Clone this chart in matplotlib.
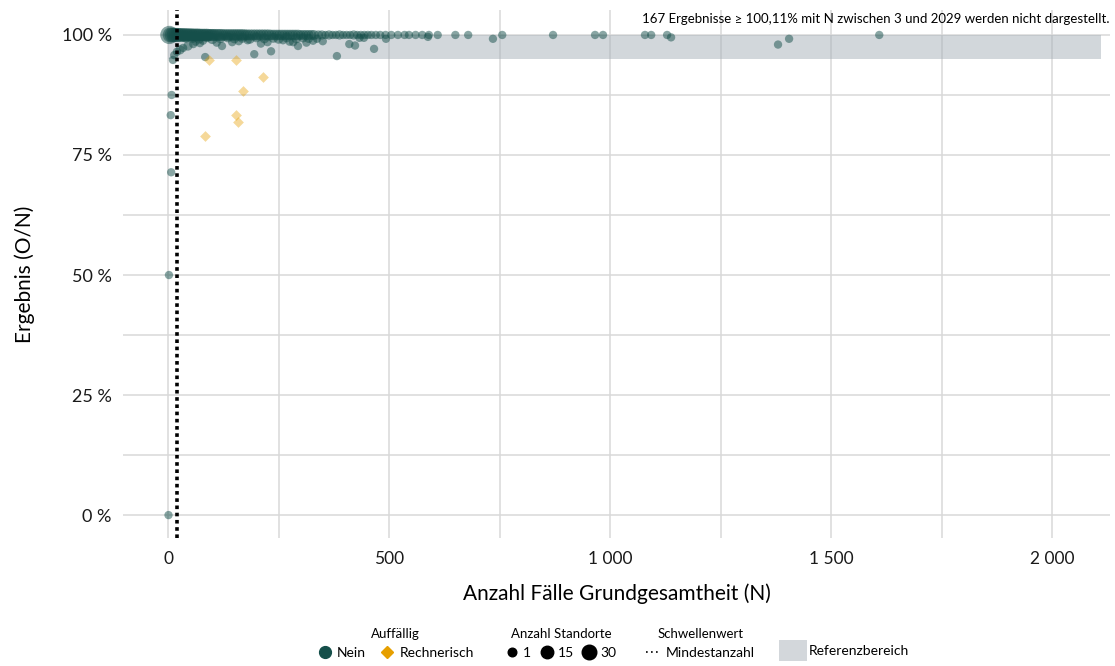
import matplotlib.pyplot as plt
import numpy as np
from matplotlib.lines import Line2D
from matplotlib.patches import Patch

plt.rcParams['font.family'] = ['Lato', 'DejaVu Sans']

#---------------------------------------------------------------------------#
# data
#---------------------------------------------------------------------------#

# Auffaellig: Nein -- results at 100 %
n_voll = [3, 5, 9, 13, 17, 21, 25, 29, 33, 37, 41, 45, 49, 53, 57, 61, 65,
          69, 73, 77, 81, 85, 89, 93, 97, 101, 105, 110, 115, 120, 125, 130,
          135, 140, 145, 150, 155, 160, 165, 170, 175, 180, 186, 192, 198,
          204, 210, 216, 222, 228, 234, 240, 246, 252, 258, 264, 270, 276,
          282, 288, 294, 300, 306, 312, 318, 324, 330,
          340, 348, 356, 364, 372, 380, 388, 396, 404, 412, 420, 428, 436,
          444, 452, 460, 470, 480, 492, 505, 520, 535, 545, 560, 575, 590,
          610, 650, 679, 756, 871, 966, 984, 1079, 1093, 1129, 1609]
anzahl_voll = [30, 16, 15, 14, 13, 13, 12, 12, 11, 11, 11, 10, 10, 10, 9, 9,
               9, 9, 8, 8, 8, 8, 8, 7, 7, 7, 7, 7, 7, 7, 6, 6, 6, 6, 6, 6, 6,
               6, 6, 6, 5, 5, 5, 5, 5, 5, 5, 5, 5, 5, 4, 4, 4, 4, 4, 4, 4, 4,
               4, 4, 4, 3, 3, 3, 3, 3, 3,
               2, 2, 1, 2, 1, 1, 2, 1, 1, 1, 2, 1, 1, 1, 1, 1, 1, 1, 1, 1, 1,
               1, 1, 1, 1, 1, 1, 1, 1, 1, 1, 1, 1, 1, 1, 1, 1]

# Auffaellig: Nein -- results below 100 %
n_unter = [1, 2, 7, 6, 8,
           11, 14, 20, 27, 34, 45, 57, 72,
           84, 122, 195, 233, 294, 382, 466, 79, 145, 180, 210, 260, 283, 328,
           337, 350, 410, 423, 433, 443, 493, 588, 735, 1138, 1380, 1405,
           40, 55, 70, 88, 100, 118, 135, 150, 168, 185, 200, 218, 238, 250,
           268, 290, 305, 318,
           62, 110, 160, 225, 275, 313]
ergebnis_unter = [0.0, 50.0, 71.4, 83.3, 87.5,
                  94.8, 95.8, 96.5, 96.9, 97.3, 97.7, 98.1, 98.3,
                  95.4, 97.7, 96.0, 96.6, 97.7, 95.6, 97.1, 98.8, 98.5, 98.9,
                  98.2, 98.9, 98.5, 98.8, 99.2, 98.7, 98.1, 97.8, 99.4, 99.4,
                  99.2, 99.6, 99.2, 99.5, 98.0, 99.2,
                  99.5, 99.4, 99.3, 99.6, 99.2, 99.4, 99.5, 99.3, 99.4, 99.2,
                  99.5, 99.3, 99.4, 99.2, 99.5, 99.3, 99.4, 99.3,
                  98.6, 98.4, 98.7, 98.5, 98.6, 98.4]
anzahl_unter = [1, 1, 1, 1, 1,
                1, 1, 1, 2, 1, 2, 1, 1,
                1, 1, 1, 1, 1, 1, 1, 1, 1, 1, 1, 1, 1, 1,
                1, 1, 1, 1, 1, 1, 1, 1, 1, 1, 1, 1,
                4, 4, 4, 4, 4, 4, 3, 3, 3, 3, 3, 3, 3, 3, 3, 3, 2, 2,
                1, 1, 1, 1, 1, 1]

# Auffaellig: Rechnerisch
n_rech = [93, 154, 215, 170, 154, 158, 84]
ergebnis_rech = [94.8, 94.8, 91.2, 88.3, 83.3, 81.9, 79.0]

mindestanzahl = 20
ref_unten, ref_oben = 95, 100
ref_n_max = 2110

x_ticks = [0, 500, 1000, 1500, 2000]
x_ticklabels = ["0", "500", "1 000", "1 500", "2 000"]
y_ticks = [0, 25, 50, 75, 100]
y_ticklabels = ["0 %", "25 %", "50 %", "75 %", "100 %"]

legend_sizes = [1, 15, 30]

TEAL = "#154f4a"
ORANGE = "#e69f00"


def size_of(n):
    # marker area in pt^2, diameter grows with sqrt of the count
    d = 6.0 + 1.6 * (np.sqrt(np.asarray(n, dtype=float)) - 1)
    return d ** 2


#---------------------------------------------------------------------------#
# plot
#---------------------------------------------------------------------------#

fig = plt.figure(figsize=(11.15, 6.66), dpi=100)
ax = fig.add_axes([0.1103, 0.192, 0.8852, 0.793])

ax.set_xlim(-102, 2131)
ax.set_ylim(-4.8, 105.2)

ax.set_xticks(x_ticks)
ax.set_xticklabels(x_ticklabels)
ax.set_xticks([250, 750, 1250, 1750], minor=True)
ax.set_yticks(y_ticks)
ax.set_yticklabels(y_ticklabels)
ax.set_yticks([12.5, 37.5, 62.5, 87.5], minor=True)
ax.grid(which="both", color="#d9d9d9", linewidth=1.1, zorder=0)
ax.set_axisbelow(True)
ax.tick_params(which="both", length=0, colors="#1a1a1a")
ax.tick_params(axis="x", labelsize=12.5, pad=9)
ax.tick_params(axis="y", labelsize=13, pad=8)
for s in ax.spines.values():
    s.set_visible(False)

# reference range
ax.fill_between([0, ref_n_max], ref_unten, ref_oben, facecolor="#a7b0b8",
                alpha=0.5, linewidth=0, zorder=1)

ax.scatter(n_voll, [100] * len(n_voll), s=size_of(anzahl_voll), c=TEAL,
           alpha=0.5, linewidths=0, zorder=3)
ax.scatter(n_unter, ergebnis_unter, s=size_of(anzahl_unter), c=TEAL,
           alpha=0.5, linewidths=0, zorder=3)
ax.scatter(n_rech, ergebnis_rech, s=30, c=ORANGE, marker="D",
           alpha=0.4, linewidths=0, zorder=3)

ax.axvline(mindestanzahl, color="black", linestyle=(0, (1, 1)),
           linewidth=2.6, zorder=4)

ax.set_xlabel("Anzahl Fälle Grundgesamtheit (N)", fontsize=15, labelpad=12)
ax.set_ylabel("Ergebnis (O/N)", fontsize=15, labelpad=19)

fig.text(0.9955, 0.972,
         "167 Ergebnisse ≥ 100,11% mit N zwischen 3 und 2029 werden nicht dargestellt.",
         ha="right", va="center", fontsize=9.5)

#---------------------------------------------------------------------------#
# legends
#---------------------------------------------------------------------------#

leg_kw = dict(frameon=False, fontsize=10, title_fontsize=9.5,
              handletextpad=0.4, columnspacing=1.0, borderpad=0.0,
              borderaxespad=0.0, handlelength=1.0)

y_leg = 0.057

h1 = [Line2D([], [], marker="o", linestyle="", color=TEAL, markersize=8.5),
      Line2D([], [], marker="D", linestyle="", color=ORANGE, markersize=6)]
fig.legend(h1, ["Nein", "Rechnerisch"], title="Auffällig", ncol=2,
           loc="upper center", bbox_to_anchor=(0.355, y_leg), **leg_kw)

h2 = [Line2D([], [], marker="o", linestyle="", color="black",
             markersize=d) for d in [6.2, 9.0, 10.5]]
fig.legend(h2, [str(v) for v in legend_sizes], title="Anzahl Standorte",
           ncol=3, loc="upper center", bbox_to_anchor=(0.503, y_leg),
           **{**leg_kw, "columnspacing": 0.6, "handletextpad": 0.3})

h3 = [Line2D([], [], color="black", linestyle=(0, (1, 2)), linewidth=1.2)]
fig.legend(h3, ["Mindestanzahl"], title="Schwellenwert", ncol=1,
           loc="upper center", bbox_to_anchor=(0.628, y_leg), **leg_kw)

h4 = [Patch(facecolor="#d3d7db", edgecolor="none")]
fig.legend(h4, ["Referenzbereich"], loc="upper left",
           bbox_to_anchor=(0.699, 0.039), handlelength=2.0,
           handleheight=2.0, frameon=False, fontsize=10,
           handletextpad=0.1, borderpad=0.0, borderaxespad=0.0)

fig.savefig("out.png", dpi=100)
